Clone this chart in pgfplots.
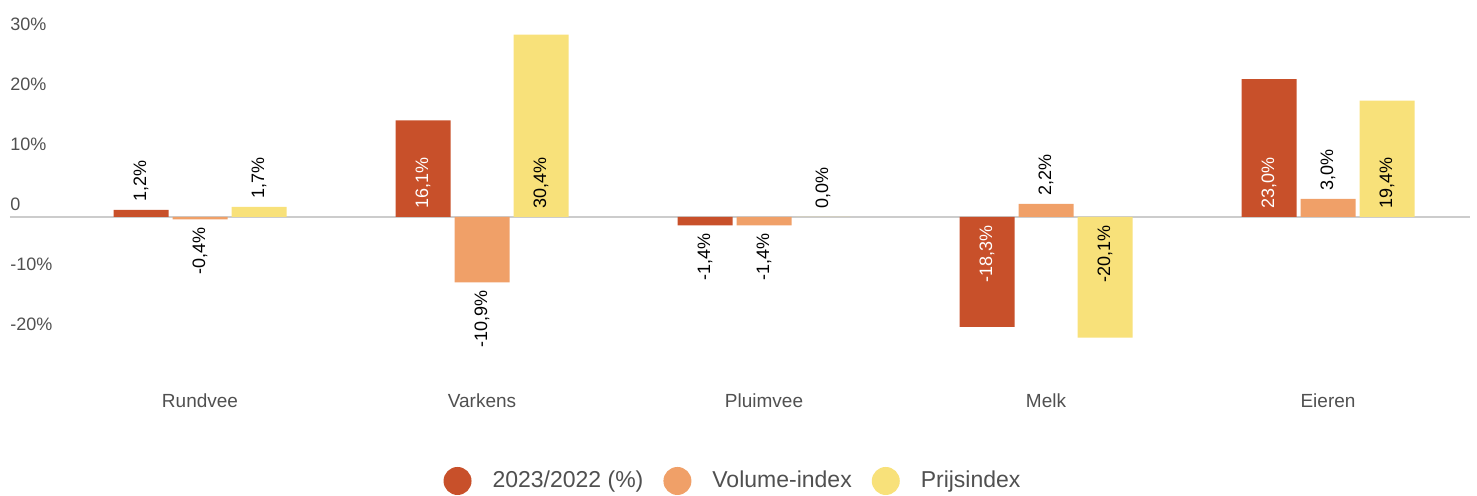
\documentclass[border=0pt]{standalone}
\usepackage{fontspec}
\setmainfont{Liberation Sans}
\usepackage{pgfplots}
\pgfplotsset{compat=1.18}
\definecolor{cRed}{HTML}{C8502A}
\definecolor{cOra}{HTML}{F0A068}
\definecolor{cYel}{HTML}{F8E17A}
\definecolor{tickgray}{HTML}{505050}
\definecolor{zline}{HTML}{CCCCCC}
\begin{document}
\begin{tikzpicture}
\begin{axis}[
  at={(0pt,0pt)}, anchor=south west,
  scale only axis, width=730pt, height=180pt,
  xmin=-0.6738, xmax=4.5035, ymin=-25.5, ymax=34.5,
  clip=false,
  axis line style={draw=none}, major tick length=0pt,
  xtick={0,1,2,3,4},
  xticklabels={Rundvee,Varkens,Pluimvee,Melk,Eieren},
  xticklabel style={anchor=north, inner sep=0pt, yshift=-11.5pt,
    font=\fontsize{9.5}{11}\selectfont, text=tickgray},
  ytick={-20,-10,0,10,20,30},
  yticklabels={-20\%,-10\%,0,10\%,20\%,30\%},
  yticklabel style={anchor=south west, inner sep=0pt, yshift=2.75pt,
    font=\fontsize{9}{11}\selectfont, text=tickgray},
  extra y ticks={0}, extra y tick labels={},
  extra y tick style={grid=major, major grid style={draw=zline, line width=1pt}},
  legend style={draw=none, at={(0.4959,-0.3083)}, anchor=center,
    legend columns=-1, font=\fontsize{11.5}{13}\selectfont, text=tickgray,
    /tikz/every odd column/.append style={column sep=8.5pt},
    /tikz/every even column/.append style={column sep=8pt}},
  legend image code/.code={\fill[#1] (7pt,0pt) circle (7pt);},
]
% bars
\addplot[ybar, bar width=27.5pt, bar shift=-29.5pt, fill=cRed, draw=none]
  coordinates {(0,1.2) (1,16.1) (2,-1.4) (3,-18.3) (4,23.0)};
\addlegendentry{2023/2022 (\%)}
\addplot[ybar, bar width=27.5pt, bar shift=0pt, fill=cOra, draw=none]
  coordinates {(0,-0.4) (1,-10.9) (2,-1.4) (3,2.2) (4,3.0)};
\addlegendentry{Volume-index}
\addplot[ybar, bar width=27.5pt, bar shift=29.5pt, fill=cYel, draw=none]
  coordinates {(0,1.7) (1,30.4) (2,0.0) (3,-20.1) (4,19.4)};
\addlegendentry{Prijsindex}
% value labels (black, reading upward from the point)
\addplot[forget plot, draw=none, mark=none, point meta=explicit symbolic,
  nodes near coords,
  nodes near coords style={rotate=90, anchor=west, inner sep=4pt,
    font=\fontsize{9}{11}\selectfont, text=black}]
  coordinates {(-0.2092,1.2) [1,2\%] (0.2092,1.7) [1,7\%] (1.2092,0) [30,4\%]
    (2.2092,0) [0,0\%] (3,2.2) [2,2\%] (4,3.0) [3,0\%] (4.2092,0) [19,4\%]};
% value labels (black, ending at the point)
\addplot[forget plot, draw=none, mark=none, point meta=explicit symbolic,
  nodes near coords,
  nodes near coords style={rotate=90, anchor=east, inner sep=4pt,
    font=\fontsize{9}{11}\selectfont, text=black}]
  coordinates {(0,-0.4) [-0,4\%] (1,-10.9) [-10,9\%] (1.7908,-1.4) [-1,4\%]
    (2,-1.4) [-1,4\%] (3.2092,0) [-20,1\%]};
% value labels inside red bars
\addplot[forget plot, draw=none, mark=none, point meta=explicit symbolic,
  nodes near coords,
  nodes near coords style={rotate=90, anchor=west, inner sep=4pt,
    font=\fontsize{9}{11}\selectfont, text=white}]
  coordinates {(0.7908,0) [16,1\%] (3.7908,0) [23,0\%]};
\addplot[forget plot, draw=none, mark=none, point meta=explicit symbolic,
  nodes near coords,
  nodes near coords style={rotate=90, anchor=east, inner sep=4pt,
    font=\fontsize{9}{11}\selectfont, text=white}]
  coordinates {(2.7908,0) [-18,3\%]};
\end{axis}
\pgfresetboundingbox
\path[use as bounding box] (-5pt,-63pt) rectangle (733.5pt,185pt);
\end{tikzpicture}
\end{document}
